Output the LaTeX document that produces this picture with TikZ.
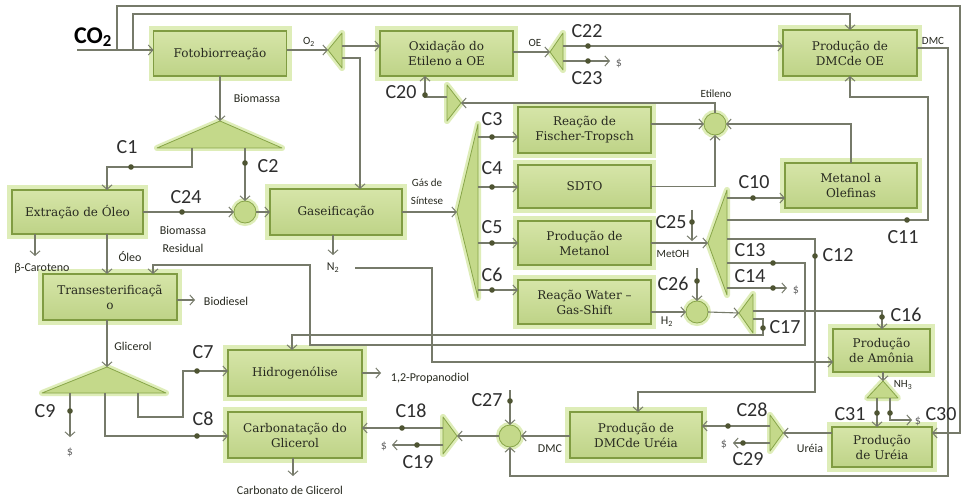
\documentclass[tikz,border=0pt]{standalone}
\usepackage{fontspec}
\setmainfont{DejaVu Serif}
\newfontfamily\lblfont{Carlito}
\usetikzlibrary{arrows.meta}

\definecolor{wire}{RGB}{118,122,106}
\definecolor{dotc}{RGB}{78,84,50}
\definecolor{boxfill}{RGB}{190,211,135}
\definecolor{boxfilltop}{RGB}{214,229,168}
\definecolor{boxedge}{RGB}{128,156,66}
\definecolor{glowc}{RGB}{190,220,115}
\definecolor{trifill}{RGB}{196,217,138}
\definecolor{triedge}{RGB}{135,165,72}
\definecolor{txt}{RGB}{40,42,32}

\tikzset{
  unitbox/.style={rectangle, inner sep=1pt, outer sep=0pt, draw=boxedge, line width=1.4pt,
    top color=boxfilltop, bottom color=boxfill,
    preaction={draw=glowc, line width=10pt, opacity=0.5},
    font=\fontsize{12}{15}\selectfont, text=txt, align=center},
  split/.style={fill=trifill, draw=triedge, line width=0.8pt, line join=round,
    preaction={draw=glowc, line width=6pt, opacity=0.5, line join=round}},
  mixer/.style={circle, minimum size=22pt, inner sep=0pt, outer sep=0pt, fill=trifill,
    draw=triedge, line width=0.8pt, preaction={draw=glowc, line width=6pt, opacity=0.5}},
  ln/.style={draw=wire, line width=1.1pt},
  arr/.style={ln, -{Straight Barb[length=4.5pt,width=10pt,line width=1pt]}},
  lbl/.style={font=\lblfont\fontsize{12}{14}\selectfont, text=txt, inner sep=0pt},
  clbl/.style={font=\lblfont\fontsize{20}{22}\selectfont, text=black!82, inner sep=0pt},
  cost/.style={font=\lblfont\fontsize{12}{14}\selectfont, text=black!60, inner sep=0pt},
}

\begin{document}
\begin{tikzpicture}[x=1pt,y=-1pt]
\fill[white] (0,0) rectangle (961,497);
\useasboundingbox (0,0) rectangle (961,497);

% ---------- process units ----------
\node[unitbox, minimum width=133pt, minimum height=45pt] (fot)   at (220,53.5)  {Fotobiorreação};
\node[unitbox, minimum width=133pt, minimum height=45pt] (oxi)   at (446.5,53.5){Oxidação do\\Etileno a OE};
\node[unitbox, minimum width=134pt, minimum height=46pt] (dmcoe) at (850,53)    {Produção de\\DMCde OE};
\node[unitbox, minimum width=133pt, minimum height=46pt] (ft)    at (584.5,130) {Reação de\\Fischer-Tropsch};
\node[unitbox, minimum width=133pt, minimum height=43pt] (sdto)  at (584.5,186.5){SDTO};
\node[unitbox, minimum width=132pt, minimum height=45pt] (mto)   at (851,185.5) {Metanol a\\Olefinas};
\node[unitbox, minimum width=131pt, minimum height=44pt] (ext)   at (77.5,212)  {Extração de Óleo};
\node[unitbox, minimum width=132pt, minimum height=46pt] (gas)   at (336,212)   {Gaseificação};
\node[unitbox, minimum width=133pt, minimum height=44pt] (met)   at (584.5,243) {Produção de\\Metanol};
\node[unitbox, minimum width=134pt, minimum height=46pt] (trans) at (110,297)   {Transesterificaçã\\o};
\node[unitbox, minimum width=133pt, minimum height=44pt] (wgs)   at (584.5,302) {Reação Water –\\Gas-Shift};
\node[unitbox, minimum width=134pt, minimum height=46pt] (hid)   at (295,373)   {Hidrogenólise};
\node[unitbox, minimum width=97pt,  minimum height=43pt] (amo)   at (881.5,350.5){Produção\\de Amônia};
\node[unitbox, minimum width=134pt, minimum height=46pt] (carb)  at (295,435)   {Carbonatação do\\Glicerol};
\node[unitbox, minimum width=132pt, minimum height=46pt] (dmcu)  at (636,435)   {Produção de\\DMCde Uréia};
\node[unitbox, minimum width=100pt, minimum height=40pt] (ure)   at (882,447)   {Produção\\de Uréia};

% ---------- splitters ----------
\coordinate (sO2)  at (328,50);   \path[split] (sO2)  -- (342,33)  -- (342,68)  -- cycle;
\coordinate (sOE)  at (550,52);   \path[split] (sOE)  -- (563,33)  -- (563,70)  -- cycle;
\coordinate (sEt)  at (461,103);  \path[split] (sEt)  -- (447,85)  -- (447,121) -- cycle;
\coordinate (sGas) at (457,212);  \path[split] (sGas) -- (478,124) -- (478,298) -- cycle;
\coordinate (sMet) at (708,243);  \path[split] (sMet) -- (727,190) -- (727,295) -- cycle;
\coordinate (sH2)  at (739,313);  \path[split] (sH2)  -- (753,294) -- (753,333) -- cycle;
\coordinate (sBio) at (220,121);  \path[split] (sBio) -- (157,148) -- (282,148) -- cycle;
\coordinate (sGli) at (107,367);  \path[split] (sGli) -- (42,393)  -- (166,393) -- cycle;
\coordinate (sDMC) at (457,436);  \path[split] (sDMC) -- (443,417) -- (443,454) -- cycle;
\coordinate (sUre) at (783,433);  \path[split] (sUre) -- (770,415) -- (770,451) -- cycle;
\coordinate (sNH3) at (883,381);  \path[split] (sNH3) -- (867,398) -- (898,398) -- cycle;

% ---------- mixers ----------
\node[mixer] (mGas) at (245,212) {};
\node[mixer] (mEt)  at (715,124) {};
\node[mixer] (mH2)  at (697,312) {};
\node[mixer] (mDMC) at (510,436) {};

% ---------- streams ----------
\coordinate (co2in) at (77,50);
\coordinate (co2a)  at (117,50);
\coordinate (co2b)  at (133,50);
\draw[arr] (co2in) -- (fot.west |- co2in);
\draw[arr] (co2a) -- (117,6) -- (960,6) -- (960,433) -- (ure.east |- 0,433);
\draw[arr] (co2b) -- (133,14) -- (850,14) -- (dmcoe.north);

\draw[arr] (fot.east |- sO2) -- (sO2);
\draw[arr] (342,46) -- (oxi.west |- 0,46);
\draw[arr] (342,58) -- (360,58) -- (gas.north -| 360,0);

\draw[arr] (oxi.east |- sOE) -- (sOE);
\draw[arr] (563,46) -- (dmcoe.west |- 0,46);
\draw[arr] (563,61) -- (610,61);
\draw[arr] (dmcoe.east |- 0,48) -- (948,48) -- (948,476) -- (510,476) -- (mDMC.south);

\draw[arr] (mEt.north) -- (715,103) -- (sEt);
\draw[arr] (447,97) -- (425,97) -- (oxi.south -| 425,0);
\draw[arr] (ft.east |- mEt) -- (mEt.west);
\draw[arr] (sdto.east) -- (715,186.5) -- (mEt.south);
\draw[arr] (mto.north) -- (851,124) -- (mEt.east);

\draw[arr] (fot.south) -- (sBio);
\draw[arr] (192,148) -- (192,167) -- (107,167) -- (ext.north -| 107,0);
\draw[arr] (245,148) -- (mGas.north);
\draw[arr] (ext.east) -- (mGas.west);
\draw[arr] (mGas.east) -- (gas.west);
\draw[arr] (gas.east) -- (sGas);

\draw[arr] (478,137) -- (ft.west |- 0,137);
\draw[arr] (478,187) -- (sdto.west |- 0,187);
\draw[arr] (478,243) -- (met.west);
\draw[arr] (478,290) -- (wgs.west |- 0,290);

\draw[arr] (ext.south -| 35,0) -- (35,256);
\draw[arr] (ext.south -| 107,0) -- (trans.north -| 107,0);
\draw[arr] (trans.east |- 0,300) -- (195,300);
\draw[arr] (trans.south -| 107,0) -- (sGli);

\draw[arr] (70,393) -- (70,437);
\draw[arr] (105,393) -- (105,436) -- (carb.west |- 0,436);
\draw[arr] (138,393) -- (138,417) -- (183,417) -- (183,371) -- (hid.west |- 0,371);
\draw[arr] (hid.east) -- (381,373);
\draw[arr] (carb.south -| 293,0) -- (293,476);

\draw[arr] (gas.south -| 333,0) -- (333,255);
\draw[arr] (355,268) -- (432,268) -- (432,362) -- (amo.west |- 0,362);

\draw[arr] (met.east) -- (sMet);
\draw[arr] (692,210) -- (692,241);
\draw[arr] (727,198) -- (mto.west |- 0,198);
\draw[arr] (727,220) -- (928,220) -- (928,97) -- (850,97) -- (dmcoe.south);
\draw[arr] (727,239) -- (815,239) -- (815,392) -- (638,392) -- (dmcu.north -| 638,0);
\draw[arr] (727,263) -- (805,263) -- (805,345) -- (310,345) -- (310,265) -- (153,265) -- (trans.north -| 153,0);
\draw[arr] (727,288) -- (787,288);

\draw[arr] (wgs.east |- mH2) -- (mH2.west);
\draw[arr] (697,268) -- (mH2.north);
\draw[arr] (mH2.east) -- (sH2);
\draw[arr] (753,311) -- (882,311) -- (amo.north -| 882,0);
\draw[arr] (753,319) -- (763,319) -- (763,335) -- (292,335) -- (hid.north -| 292,0);

\draw[arr] (amo.south -| sNH3) -- (sNH3);
\draw[arr] (877,398) -- (ure.north -| 877,0);
\draw[arr] (890,398) -- (890,420) -- (912,420);
\draw[arr] (ure.west |- sUre) -- (sUre);
\draw[arr] (770,426) -- (dmcu.east |- 0,426);
\draw[arr] (770,443) -- (733,443);
\draw[arr] (dmcu.west |- mDMC) -- (mDMC.east);
\draw[arr] (510,390) -- (mDMC.north);
\draw[arr] (mDMC.west) -- (sDMC);
\draw[arr] (443,428) -- (carb.east |- 0,428);
\draw[arr] (443,445) -- (392,445);

% ---------- split-fraction points ----------
\foreach \p in {(588,46),(588,61),(425,95),(131,167),(245,163),(182,212),
  (492,137),(492,187),(492,243),(492,290),(753,198),(907,220),(815,256),
  (773,263),(773,288),(692,222),(697,281),(882,317),(763,328),(877,413),
  (890,413),(728,426),(743,443),(510,401),(402,428),(417,445),(70,411),
  (197,436),(197,371)}
  \fill[dotc] \p circle (2.8pt);

% ---------- stream labels ----------
\node[font=\lblfont\bfseries\fontsize{24}{26}\selectfont, text=black, inner sep=0pt] (tco2) at (93,37) {CO\textsubscript{2}};
\node[lbl, font=\lblfont\fontsize{11}{12}\selectfont] (to2) at (309,42) {O\textsubscript{2}};
\node[lbl, font=\lblfont\fontsize{11}{12}\selectfont] (toe) at (535,43) {OE};
\node[lbl, font=\lblfont\fontsize{11}{12}\selectfont] (tdmc1) at (933,41) {DMC};
\node[lbl, font=\lblfont\fontsize{11}{12}\selectfont] (tet) at (716,94) {Etileno};
\node[lbl] (tbio) at (257,98) {Biomassa};
\node[lbl] (tres1) at (183,230) {Biomassa};
\node[lbl] (tres2) at (183,248) {Residual};
\node[lbl] (tcar) at (42,268) {β-Caroteno};
\node[lbl] (tole) at (130,257) {Óleo};
\node[lbl] (tbd) at (226,301) {Biodiesel};
\node[lbl, font=\lblfont\fontsize{11}{12}\selectfont] (tgs1) at (427,183) {Gás de};
\node[lbl, font=\lblfont\fontsize{11}{12}\selectfont] (tgs2) at (427,201) {Síntese};
\node[lbl] (tn2) at (333,268) {N\textsubscript{2}};
\node[lbl, font=\lblfont\fontsize{11}{12}\selectfont] (tmeoh) at (673,254) {MetOH};
\node[lbl] (th2) at (667,322) {H\textsubscript{2}};
\node[lbl] (tgli) at (133,346) {Glicerol};
\node[lbl] (tpd) at (430,378) {1,2-Propanodiol};
\node[lbl] (tcg) at (290,490) {Carbonato de Glicerol};
\node[lbl] (tdmc2) at (550,449) {DMC};
\node[lbl, font=\lblfont\fontsize{11}{12}\selectfont] (tnh3) at (903,385) {NH\textsubscript{3}};
\node[lbl] (tur) at (810,448) {Uréia};
\node[cost] (d23) at (619,63) {\$};
\node[cost] (d14) at (796,290) {\$};
\node[cost] (d9)  at (70,452) {\$};
\node[cost] (d19) at (384,446) {\$};
\node[cost] (d30) at (918,421) {\$};
\node[cost] (d29) at (724,444) {\$};

% ---------- split-fraction names ----------
\node[clbl] (c1)  at (127,147) {C1};
\node[clbl] (c2)  at (268,166) {C2};
\node[clbl] (c3)  at (492,119) {C3};
\node[clbl] (c4)  at (492,168) {C4};
\node[clbl] (c5)  at (492,227) {C5};
\node[clbl] (c6)  at (492,275) {C6};
\node[clbl] (c7)  at (203,352) {C7};
\node[clbl] (c8)  at (203,419) {C8};
\node[clbl] (c9)  at (45,411)  {C9};
\node[clbl] (c10) at (754,182) {C10};
\node[clbl] (c11) at (903,237) {C11};
\node[clbl] (c12) at (838,255) {C12};
\node[clbl] (c13) at (750,250) {C13};
\node[clbl] (c14) at (750,276) {C14};
\node[clbl] (c16) at (906,315) {C16};
\node[clbl] (c17) at (785,327) {C17};
\node[clbl] (c18) at (411,411) {C18};
\node[clbl] (c19) at (418,462) {C19};
\node[clbl] (c20) at (401,92)  {C20};
\node[clbl] (c22) at (587,31)  {C22};
\node[clbl] (c23) at (587,78)  {C23};
\node[clbl] (c24) at (186,197) {C24};
\node[clbl] (c25) at (671,222) {C25};
\node[clbl] (c26) at (673,284) {C26};
\node[clbl] (c27) at (487,400) {C27};
\node[clbl] (c28) at (752,410) {C28};
\node[clbl] (c29) at (748,459) {C29};
\node[clbl] (c30) at (941,414) {C30};
\node[clbl] (c31) at (850,414) {C31};
\end{tikzpicture}
\end{document}
